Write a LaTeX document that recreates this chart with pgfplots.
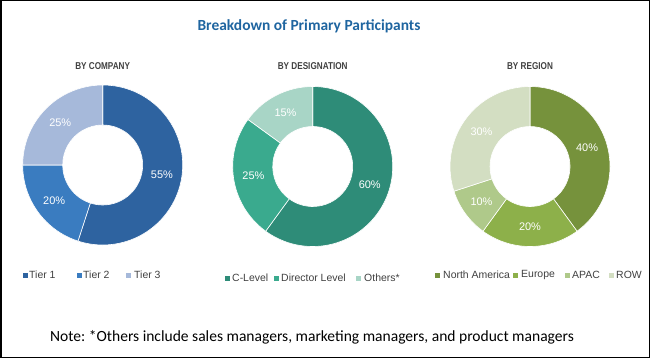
\documentclass[border=0pt]{standalone}
\usepackage{pgfplots}
\pgfplotsset{compat=1.18}
\usepackage{fontspec}
\setmainfont{Liberation Sans}
\newfontfamily\calibri{Carlito}
\frenchspacing
\definecolor{tierA}{HTML}{2E63A0}
\definecolor{tierB}{HTML}{3A7CC0}
\definecolor{tierC}{HTML}{A6B9DA}
\definecolor{desA}{HTML}{2E8C78}
\definecolor{desB}{HTML}{3AAA8E}
\definecolor{desC}{HTML}{A8D5C6}
\definecolor{regA}{HTML}{76923C}
\definecolor{regB}{HTML}{8DB04A}
\definecolor{regC}{HTML}{AFC98A}
\definecolor{regD}{HTML}{D3DEC2}
\definecolor{titleblue}{HTML}{1F65A0}
\definecolor{txt}{HTML}{404040}
% #1 cumulative start (%), #2 value (%), #3 colour
\newcommand{\slice}[3]{%
  \fill[#3, draw=white, line width=0.6bp] (axis cs:0,0) ++({90-3.6*#1}:80bp)
    arc[start angle={90-3.6*#1}, end angle={90-3.6*(#1+#2)}, radius=80bp]
    -- ++({90-3.6*(#1+#2)}:-40bp)
    arc[start angle={90-3.6*(#1+#2)}, end angle={90-3.6*#1}, radius=40bp] -- cycle;
  \path (axis cs:0,0) ++({90-3.6*(#1+#2/2)}:60bp) node[text=white, font=\fontsize{11}{12}\selectfont] {#2\%};
}
\newcommand{\sub}[1]{\scalebox{0.82}[1]{\fontsize{10}{11}\selectfont\bfseries #1}}
\newcommand{\leg}[3]{% x, y, colour
  \fill[#3] (#1-2.5,358-#2-2.5) rectangle ++(5,5);}
\begin{document}
\begin{tikzpicture}[x=1bp,y=1bp]
\draw[black, line width=1.5bp] (0.75,0.75) rectangle (649.25,357.25);
\node[font=\calibri\fontsize{15.5}{18}\selectfont\bfseries, text=titleblue] at (309,358-26) {Breakdown of Primary Participants};
\node[text=txt] at (102.7,358-66) {\sub{BY COMPANY}};
\node[text=txt] at (312.7,358-66) {\sub{BY DESIGNATION}};
\node[text=txt] at (530,358-66) {\sub{BY REGION}};
\pgfplotsset{donut/.style={anchor=center, width=160bp, height=160bp, scale only axis,
  xmin=-1, xmax=1, ymin=-1, ymax=1, hide axis, clip=false}}
\begin{axis}[donut, at={(102.7bp,193bp)}]
  \slice{0}{55}{tierA}
  \slice{55}{20}{tierB}
  \slice{75}{25}{tierC}
\end{axis}
\begin{axis}[donut, at={(312.7bp,191.5bp)}]
  \slice{0}{60}{desA}
  \slice{60}{25}{desB}
  \slice{85}{15}{desC}
\end{axis}
\begin{axis}[donut, at={(530bp,191.5bp)}]
  \slice{0}{40}{regA}
  \slice{40}{20}{regB}
  \slice{60}{10}{regC}
  \slice{70}{30}{regD}
\end{axis}
\begin{scope}[every node/.style={anchor=west, text=txt, font=\fontsize{10.5}{12}\selectfont, inner sep=0pt}]
  \leg{25}{275}{tierA} \node at (29,358-275) {Tier 1};
  \leg{79}{275}{tierB} \node at (83,358-275) {Tier 2};
  \leg{128}{275}{tierC} \node at (134,358-275) {Tier 3};
  \leg{227}{278}{desA} \node at (232,358-278) {C-Level};
  \leg{276}{278}{desB} \node at (281,358-278) {Director Level};
  \leg{358}{278}{desC} \node at (364,358-278) {Others*};
  \leg{437}{275}{regA} \node at (443,358-275) {North America};
  \leg{515}{275}{regB} \node at (521,358-275) {Europe};
  \leg{567}{275}{regC} \node at (572,358-275) {APAC};
  \leg{611}{275}{regD} \node at (616,358-275) {ROW};
\end{scope}
\node[anchor=west, inner sep=0pt, font=\calibri\fontsize{15.6}{18}\selectfont, text=black] at (50,358-337) {Note: *Others include sales managers, marketing managers, and product managers};
\end{tikzpicture}
\end{document}
